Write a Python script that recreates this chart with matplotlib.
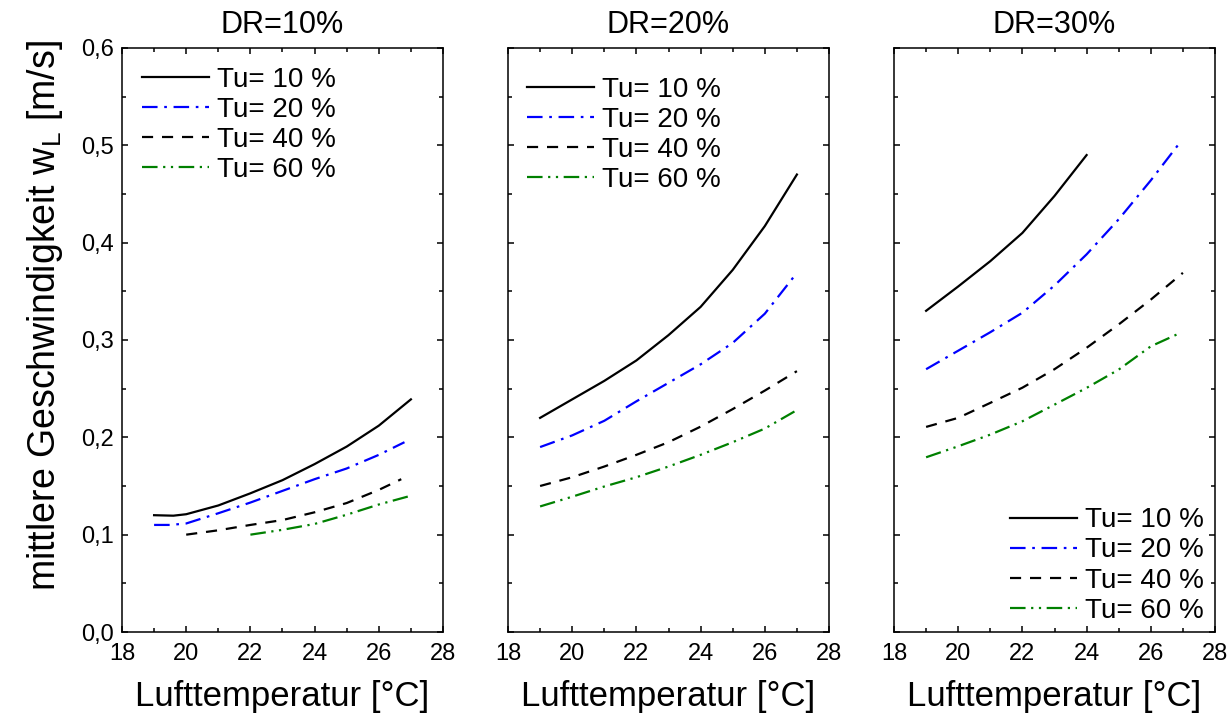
import matplotlib
matplotlib.use("Agg")
import matplotlib.pyplot as plt
from matplotlib.ticker import MultipleLocator, FuncFormatter

plt.rcParams['font.family'] = ['Liberation Sans', 'DejaVu Sans']
plt.rcParams['mathtext.fontset'] = 'custom'
plt.rcParams['mathtext.rm'] = 'Liberation Sans'

titles = ["DR=10%", "DR=20%", "DR=30%"]
labels = ["Tu= 10 %", "Tu= 20 %", "Tu= 40 %", "Tu= 60 %"]

# Panel 1: DR=10%
p1_t10_x = [19, 19.6, 20, 21, 22, 23, 24, 25, 26, 27]
p1_t10_y = [0.120, 0.1195, 0.121, 0.130, 0.1425, 0.156, 0.1725, 0.1905, 0.212, 0.239]
p1_t20_x = [19, 19.5, 20, 21, 22, 23, 24, 25, 26, 26.8]
p1_t20_y = [0.110, 0.110, 0.1115, 0.122, 0.133, 0.145, 0.157, 0.168, 0.182, 0.195]
p1_t40_x = [20, 21, 22, 23, 24, 25, 26, 26.7]
p1_t40_y = [0.100, 0.1045, 0.110, 0.115, 0.123, 0.1325, 0.146, 0.157]
p1_t60_x = [22, 23, 24, 25, 26, 27]
p1_t60_y = [0.100, 0.105, 0.111, 0.1205, 0.131, 0.140]

# Panel 2: DR=20%
p2_t10_x = [19, 20, 21, 22, 23, 24, 25, 26, 27]
p2_t10_y = [0.220, 0.239, 0.258, 0.279, 0.305, 0.334, 0.372, 0.417, 0.470]
p2_t20_x = [19, 20, 21, 22, 23, 24, 25, 26, 27]
p2_t20_y = [0.190, 0.202, 0.217, 0.237, 0.256, 0.275, 0.297, 0.327, 0.369]
p2_t40_x = [19, 20, 21, 22, 23, 24, 25, 26, 27]
p2_t40_y = [0.150, 0.159, 0.170, 0.182, 0.195, 0.211, 0.229, 0.248, 0.268]
p2_t60_x = [19, 20, 21, 22, 23, 24, 25, 26, 27]
p2_t60_y = [0.129, 0.139, 0.1495, 0.159, 0.170, 0.182, 0.195, 0.209, 0.228]

# Panel 3: DR=30%
p3_t10_x = [19, 20, 21, 22, 23, 24]
p3_t10_y = [0.330, 0.355, 0.381, 0.410, 0.448, 0.490]
p3_t20_x = [19, 20, 21, 22, 23, 24, 25, 26, 26.9]
p3_t20_y = [0.270, 0.289, 0.308, 0.328, 0.356, 0.388, 0.424, 0.464, 0.5025]
p3_t40_x = [19, 20, 21, 22, 23, 24, 25, 26, 27]
p3_t40_y = [0.2107, 0.220, 0.2354, 0.251, 0.270, 0.292, 0.316, 0.3415, 0.369]
p3_t60_x = [19, 20, 21, 22, 23, 24, 25, 26, 26.9]
p3_t60_y = [0.1795, 0.1908, 0.2028, 0.2165, 0.2336, 0.2508, 0.2696, 0.2935, 0.307]

panels = [
    [(p1_t10_x, p1_t10_y), (p1_t20_x, p1_t20_y), (p1_t40_x, p1_t40_y), (p1_t60_x, p1_t60_y)],
    [(p2_t10_x, p2_t10_y), (p2_t20_x, p2_t20_y), (p2_t40_x, p2_t40_y), (p2_t60_x, p2_t60_y)],
    [(p3_t10_x, p3_t10_y), (p3_t20_x, p3_t20_y), (p3_t40_x, p3_t40_y), (p3_t60_x, p3_t60_y)],
]

styles = [
    dict(color='black', linestyle='-'),
    dict(color='#0000ff', linestyle=(0, (7, 3, 1.2, 3))),
    dict(color='black', linestyle=(0, (5, 4))),
    dict(color='#008000', linestyle=(0, (7, 2.5, 1, 2.5, 1, 2.5))),
]

W, H = 1232, 719
fig = plt.figure(figsize=(W / 100, H / 100), dpi=100)
lefts = [122, 508, 894]
top_px, bot_px, width_px = 48, 632, 321
leg_anchor = [(0.062, 0.968, 'upper left'), (0.060, 0.951, 'upper left'), (0.965, 0.014, 'lower right')]

for i, (lp, title, series) in enumerate(zip(lefts, titles, panels)):
    ax = fig.add_axes([lp / W, 1 - bot_px / H, width_px / W, (bot_px - top_px) / H])
    for (xs, ys), st, lab in zip(series, styles, labels):
        ax.plot(xs, ys, lw=1.6, label=lab, **st)
    ax.set_xlim(18, 28)
    ax.set_ylim(0, 0.6)
    ax.xaxis.set_major_locator(MultipleLocator(2))
    ax.xaxis.set_minor_locator(MultipleLocator(1))
    ax.yaxis.set_major_locator(MultipleLocator(0.1))
    ax.yaxis.set_minor_locator(MultipleLocator(0.05))
    ax.tick_params(which='both', direction='in', top=True, right=True, width=1.1)
    ax.tick_params(which='major', length=4.5, labelsize=17)
    ax.tick_params(axis='x', which='major', pad=8)
    ax.tick_params(axis='y', which='major', pad=6)
    ax.tick_params(which='minor', length=3)
    for s in ax.spines.values():
        s.set_linewidth(1.1)
    ax.yaxis.set_major_formatter(FuncFormatter(lambda v, p: f"{v:.1f}".replace('.', ',')))
    if i > 0:
        ax.tick_params(axis='y', labelleft=False)
    ax.set_xlabel('Lufttemperatur [°C]', fontsize=25, labelpad=11)
    ax.set_title(title, fontsize=22, pad=11)
    ax_x, ax_y, loc = leg_anchor[i]
    ax.legend(loc=loc, bbox_to_anchor=(ax_x, ax_y), frameon=False, fontsize=20,
              handlelength=2.4, handletextpad=0.3, labelspacing=0.15,
              borderaxespad=0.0, borderpad=0.0)

fig.text(45 / W, 1 - 316 / H, r'mittlere Geschwindigkeit w$_\mathregular{L}$ [m/s]',
         rotation=90, fontsize=27, ha='center', va='center')

fig.savefig('out.png', dpi=100)
